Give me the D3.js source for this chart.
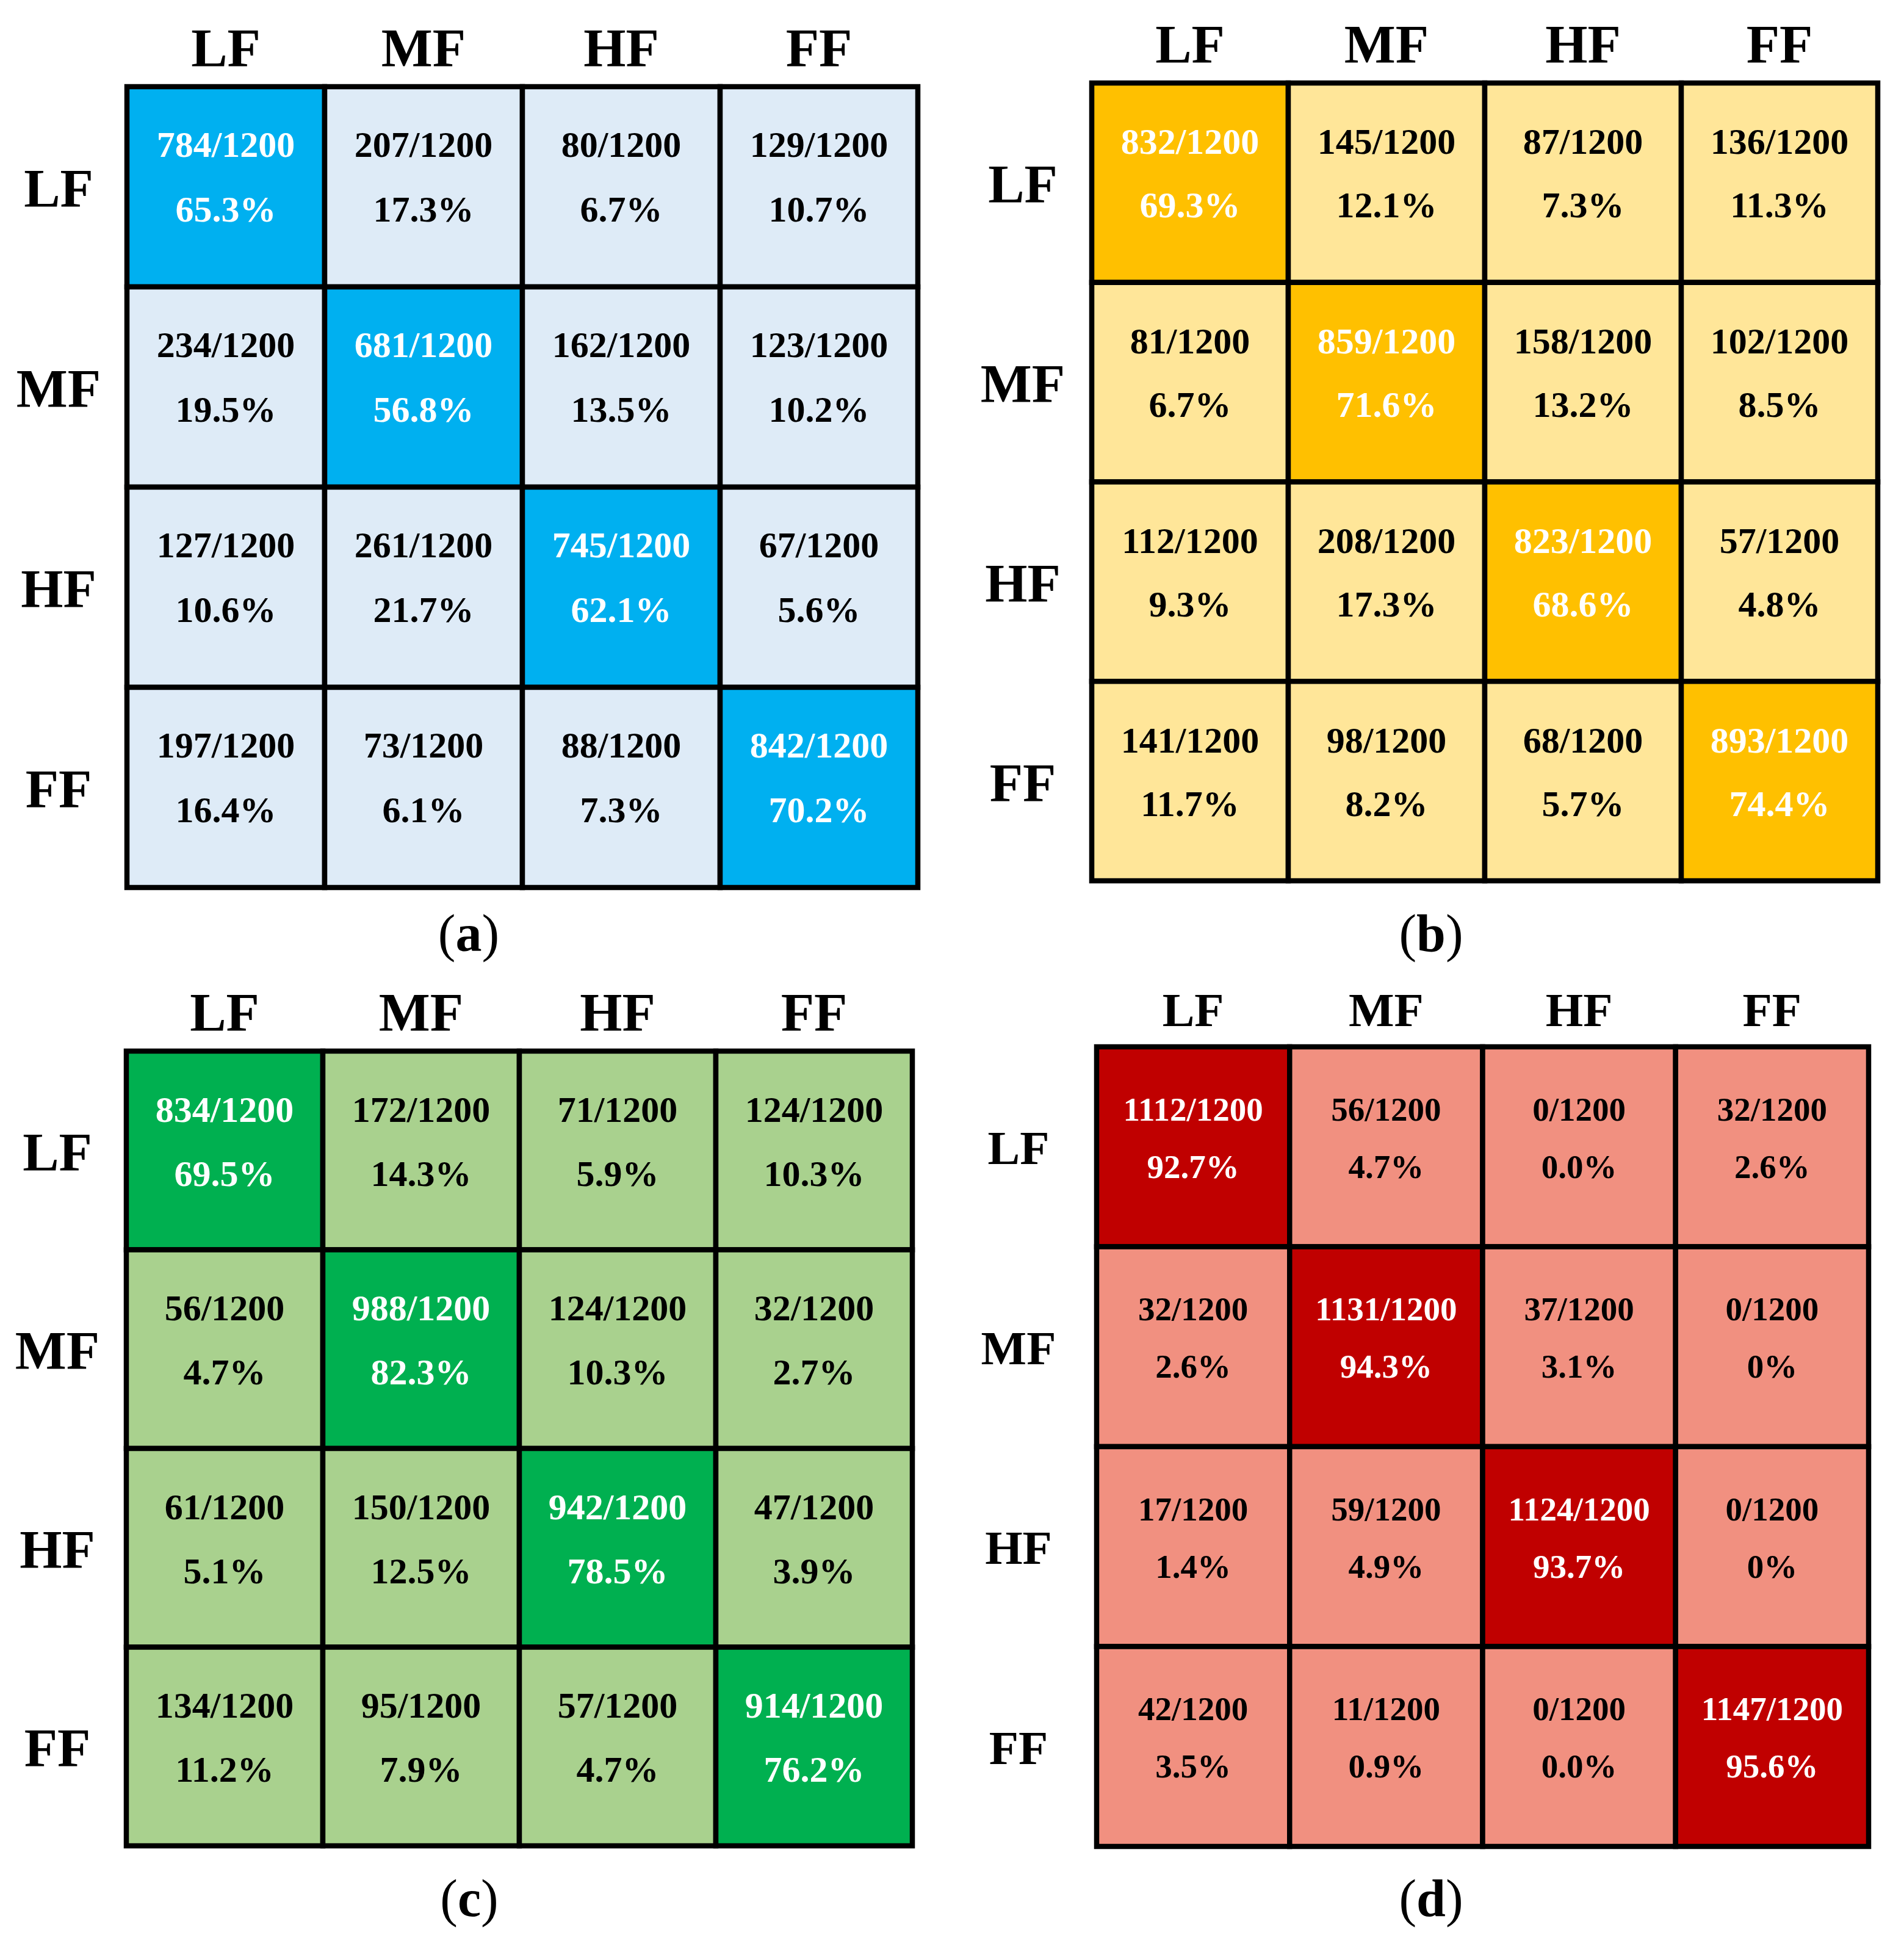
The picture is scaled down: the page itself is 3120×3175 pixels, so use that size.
<!DOCTYPE html>
<html>
<head>
<meta charset="utf-8">
<script src="https://cdn.jsdelivr.net/npm/d3@7"></script>
<style>
  html, body { margin: 0; padding: 0; background: #fff; }
  svg { display: block; }
  text { font-family: "Liberation Serif", "Times New Roman", serif; }
</style>
</head>
<body>
<script>
// ---------- DATA ----------
const categories = ["LF", "MF", "HF", "FF"];
const panelLabels = ["a", "b", "c", "d"];

const countsA = [[784, 207, 80, 129], [234, 681, 162, 123], [127, 261, 745, 67], [197, 73, 88, 842]];
const pctA = [["65.3%", "17.3%", "6.7%", "10.7%"], ["19.5%", "56.8%", "13.5%", "10.2%"], ["10.6%", "21.7%", "62.1%", "5.6%"], ["16.4%", "6.1%", "7.3%", "70.2%"]];

const countsB = [[832, 145, 87, 136], [81, 859, 158, 102], [112, 208, 823, 57], [141, 98, 68, 893]];
const pctB = [["69.3%", "12.1%", "7.3%", "11.3%"], ["6.7%", "71.6%", "13.2%", "8.5%"], ["9.3%", "17.3%", "68.6%", "4.8%"], ["11.7%", "8.2%", "5.7%", "74.4%"]];

const countsC = [[834, 172, 71, 124], [56, 988, 124, 32], [61, 150, 942, 47], [134, 95, 57, 914]];
const pctC = [["69.5%", "14.3%", "5.9%", "10.3%"], ["4.7%", "82.3%", "10.3%", "2.7%"], ["5.1%", "12.5%", "78.5%", "3.9%"], ["11.2%", "7.9%", "4.7%", "76.2%"]];

const countsD = [[1112, 56, 0, 32], [32, 1131, 37, 0], [17, 59, 1124, 0], [42, 11, 0, 1147]];
const pctD = [["92.7%", "4.7%", "0.0%", "2.6%"], ["2.6%", "94.3%", "3.1%", "0%"], ["1.4%", "4.9%", "93.7%", "0%"], ["3.5%", "0.9%", "0.0%", "95.6%"]];

const total = 1200;

// ---------- STYLE / LAYOUT ----------
const diagColors = ["#00B0F0", "#FFC000", "#00B050", "#C00000"];
const offColors  = ["#DEEBF7", "#FFE699", "#A9D18E", "#F19080"];

const layouts = [
  { x0: 208,  x1: 1504, y0: 142,  y1: 1454, head: 89, cell: 60, l1: -49, l2: 57, rowDx: 112, lblX: 768,  lblY: 1558 },
  { x0: 1789, x1: 3077, y0: 136,  y1: 1443, head: 89, cell: 60, l1: -47, l2: 57, rowDx: 113, lblX: 2345, lblY: 1558 },
  { x0: 207,  x1: 1495, y0: 1722, y1: 3024, head: 89, cell: 60, l1: -47, l2: 58, rowDx: 113, lblX: 769,  lblY: 3139 },
  { x0: 1797, x1: 3062, y0: 1715, y1: 3025, head: 79, cell: 55, l1: -43, l2: 51, rowDx: 128, lblX: 2345, lblY: 3139 }
];

const counts = [countsA, countsB, countsC, countsD];
const pcts = [pctA, pctB, pctC, pctD];

const W = 3120, H = 3175;
const svg = d3.select("body").append("svg").attr("width", W).attr("height", H);

layouts.forEach((L, p) => {
  const x = d3.scaleBand().domain(categories).range([L.x0, L.x1]).padding(0);
  const y = d3.scaleBand().domain(categories).range([L.y0, L.y1]).padding(0);
  const g = svg.append("g");

  const cells = [];
  categories.forEach((r, i) => categories.forEach((c, j) => {
    cells.push({ r, c, i, j, n: counts[p][i][j], pct: pcts[p][i][j] });
  }));

  // cells
  g.selectAll("rect.cell").data(cells).enter().append("rect")
    .attr("class", "cell")
    .attr("x", d => x(d.c)).attr("y", d => y(d.r))
    .attr("width", x.bandwidth()).attr("height", y.bandwidth())
    .attr("fill", d => d.i === d.j ? diagColors[p] : offColors[p])
    .attr("stroke", "#000").attr("stroke-width", 8.5);

  // cell text
  const tg = g.selectAll("g.txt").data(cells).enter().append("g")
    .attr("transform", d => `translate(${x(d.c) + x.bandwidth() / 2},${y(d.r) + y.bandwidth() / 2})`);
  tg.append("text")
    .attr("text-anchor", "middle").attr("y", L.l1)
    .attr("font-size", L.cell).attr("font-weight", "bold")
    .attr("fill", d => d.i === d.j ? "#fff" : "#000")
    .text(d => `${d.n}/${total}`);
  tg.append("text")
    .attr("text-anchor", "middle").attr("y", L.l2)
    .attr("font-size", L.cell).attr("font-weight", "bold")
    .attr("fill", d => d.i === d.j ? "#fff" : "#000")
    .text(d => d.pct);

  // column headers
  g.selectAll("text.colh").data(categories).enter().append("text")
    .attr("class", "colh")
    .attr("x", d => x(d) + x.bandwidth() / 2)
    .attr("y", L.y0 - 34)
    .attr("text-anchor", "middle")
    .attr("font-size", L.head).attr("font-weight", "bold")
    .text(d => d);

  // row headers
  g.selectAll("text.rowh").data(categories).enter().append("text")
    .attr("class", "rowh")
    .attr("x", L.x0 - L.rowDx)
    .attr("y", d => y(d) + y.bandwidth() / 2 + L.head * 0.36)
    .attr("text-anchor", "middle")
    .attr("font-size", L.head).attr("font-weight", "bold")
    .text(d => d);

  // panel label
  const lab = g.append("text")
    .attr("x", L.lblX).attr("y", L.lblY)
    .attr("text-anchor", "middle").attr("font-size", 86);
  lab.append("tspan").text("(");
  lab.append("tspan").attr("font-weight", "bold").text(panelLabels[p]);
  lab.append("tspan").text(")");
});
</script>
</body>
</html>
